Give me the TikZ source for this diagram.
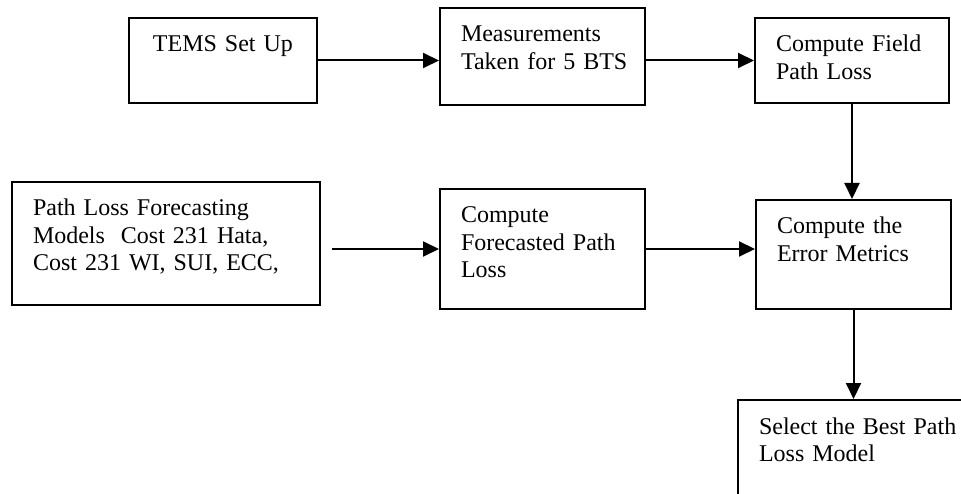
\documentclass[tikz,border=0pt]{standalone}
\usepackage{fontspec}
\setmainfont{Liberation Serif}
\usetikzlibrary{positioning, arrows.meta}
\tikzset{
  % --- process boxes (text hangs from the top left corner) ---
  stepbox/.style={
    draw, line width=2pt, anchor=north west, align=left,
    font=\fontsize{24}{27.5}\selectfont, inner xsep=21pt, inner ysep=0pt,
    text height=34pt,
  },
  % --- connectors ---
  flow/.style={-{Triangle[length=16pt, width=15pt]}, line width=2pt},
}

\begin{document}
\begin{tikzpicture}[x=1pt, y=-1pt]
    \useasboundingbox (0,0) rectangle (961,494);
    \clip (0,0) rectangle (961,494);

    % ---- Top row: drive test ----
    \node[stepbox, align=center, text width=146pt, text depth=51pt] (setup) at (128,17) {TEMS Set Up};
    \node[stepbox, text width=163pt, text depth=63pt] (meas) at (439,7) {Measurements\\Taken~for~5~BTS};
    \node[stepbox, text width=152pt, text depth=51pt] (field) at (754,17) {Compute Field\\Path Loss};

    % ---- Middle row: forecasting ----
    \node[stepbox, text width=266pt, text depth=89pt] (models) at (11,181) {
      Path Loss Forecasting\\
      Models\ \ Cost 231 Hata,\\
      Cost 231 WI, SUI, ECC,
    };
    \node[stepbox, text width=163pt, text depth=86pt, below=82pt of meas.south west, anchor=north west] (forecast) {Compute\\Forecasted Path\\Loss};
    \node[stepbox, text width=153pt, text depth=75pt, below=95pt of field.south west, anchor=north west, xshift=1pt] (error) {Compute the\\Error Metrics};

    % ---- Result (runs off the page) ----
    \node[stepbox, text width=218pt, text depth=96pt] (select) at (737,399) {Select the Best Path\\Loss Model};

    % ---- Connectors ----
    \draw[flow] (setup.east) -- (setup.east -| meas.west);
    \draw[flow] (field.west -| meas.east) -- (field.west);
    \draw[flow] (field.south) -- (field.south |- error.north);
    \draw[flow, shorten <=11pt] (forecast.west -| models.east) -- (forecast.west);
    \draw[flow] (forecast.east) -- (forecast.east -| error.west);
    \draw[flow] (error.south) -- (error.south |- select.north);
\end{tikzpicture}
\end{document}
